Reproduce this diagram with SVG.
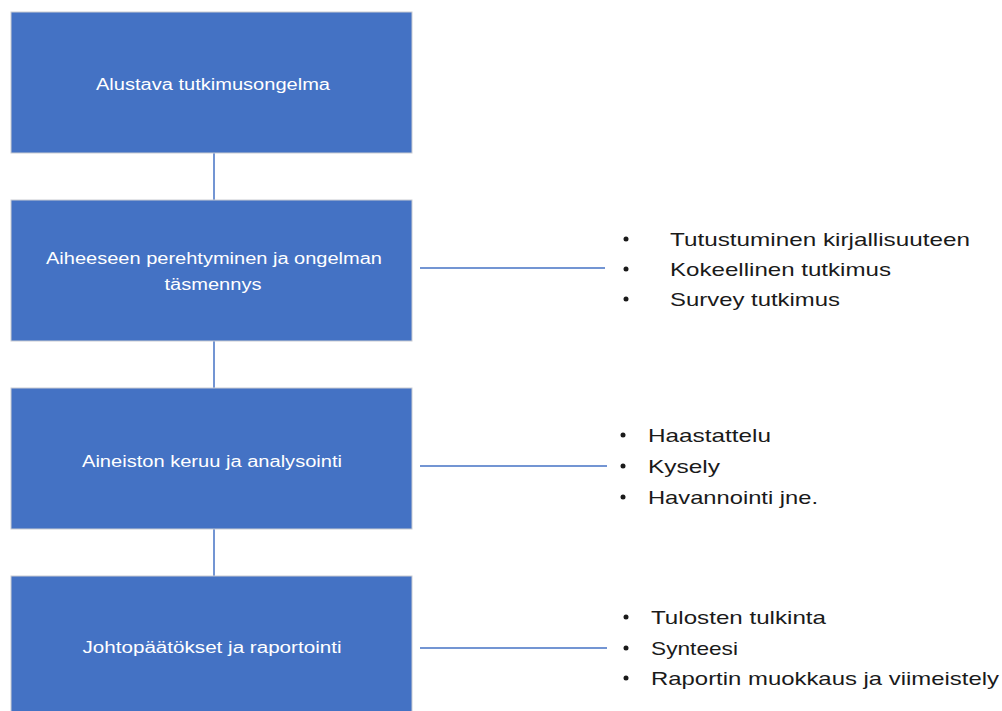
<svg xmlns="http://www.w3.org/2000/svg" width="1002" height="711" viewBox="0 0 1002 711">
<style>
.box{fill:#4472C4;stroke:#c9ccd2;stroke-width:1}
.bt{font-family:"Liberation Sans",Arial,sans-serif;font-size:16px;fill:#ffffff;text-anchor:middle}
.lt{font-family:"Liberation Sans",Arial,sans-serif;font-size:19px;fill:#1a1a1a}
.bul{fill:#1a1a1a}
.con{stroke:#4472C4;stroke-width:1.5;fill:none}
</style>
<rect width="1002" height="711" fill="#ffffff"/>
<g id="connectors">
<line class="con" x1="214" y1="153" x2="214" y2="200"/>
<line class="con" x1="214" y1="341" x2="214" y2="388"/>
<line class="con" x1="214" y1="529" x2="214" y2="576"/>
<line class="con" x1="420" y1="268" x2="605" y2="268"/>
<line class="con" x1="420" y1="466" x2="607" y2="466"/>
<line class="con" x1="420" y1="648" x2="607" y2="648"/>
</g>
<g id="n1">
<rect class="box" x="11" y="12" width="401" height="141"/>
<text class="bt" x="213" y="90" textLength="234" lengthAdjust="spacingAndGlyphs">Alustava tutkimusongelma</text>
</g>
<g id="n2">
<rect class="box" x="11" y="200" width="401" height="141"/>
<text class="bt" x="214" y="264" textLength="336" lengthAdjust="spacingAndGlyphs">Aiheeseen perehtyminen ja ongelman</text>
<text class="bt" x="213" y="290" textLength="97" lengthAdjust="spacingAndGlyphs">täsmennys</text>
</g>
<g id="n3">
<rect class="box" x="11" y="388" width="401" height="141"/>
<text class="bt" x="212" y="467" textLength="260" lengthAdjust="spacingAndGlyphs">Aineiston keruu ja analysointi</text>
</g>
<g id="n4">
<rect class="box" x="11" y="576" width="401" height="145"/>
<text class="bt" x="212" y="653" textLength="259" lengthAdjust="spacingAndGlyphs">Johtopäätökset ja raportointi</text>
</g>
<g id="list1">
<circle class="bul" cx="626" cy="239" r="2.5"/>
<circle class="bul" cx="626" cy="269" r="2.5"/>
<circle class="bul" cx="626" cy="299" r="2.5"/>
<text class="lt" x="670" y="246" textLength="300" lengthAdjust="spacingAndGlyphs">Tutustuminen kirjallisuuteen</text>
<text class="lt" x="670" y="276" textLength="221" lengthAdjust="spacingAndGlyphs">Kokeellinen tutkimus</text>
<text class="lt" x="670" y="306" textLength="170" lengthAdjust="spacingAndGlyphs">Survey tutkimus</text>
</g>
<g id="list2">
<circle class="bul" cx="623" cy="435" r="2.5"/>
<circle class="bul" cx="623" cy="466" r="2.5"/>
<circle class="bul" cx="623" cy="497" r="2.5"/>
<text class="lt" x="648" y="442" textLength="123" lengthAdjust="spacingAndGlyphs">Haastattelu</text>
<text class="lt" x="648" y="473" textLength="72" lengthAdjust="spacingAndGlyphs">Kysely</text>
<text class="lt" x="648" y="504" textLength="170" lengthAdjust="spacingAndGlyphs">Havannointi jne.</text>
</g>
<g id="list3">
<circle class="bul" cx="626" cy="617" r="2.5"/>
<circle class="bul" cx="626" cy="648" r="2.5"/>
<circle class="bul" cx="626" cy="678" r="2.5"/>
<text class="lt" x="651" y="624" textLength="175" lengthAdjust="spacingAndGlyphs">Tulosten tulkinta</text>
<text class="lt" x="651" y="655" textLength="87" lengthAdjust="spacingAndGlyphs">Synteesi</text>
<text class="lt" x="651" y="685" textLength="348" lengthAdjust="spacingAndGlyphs">Raportin muokkaus ja viimeistely</text>
</g>
</svg>
